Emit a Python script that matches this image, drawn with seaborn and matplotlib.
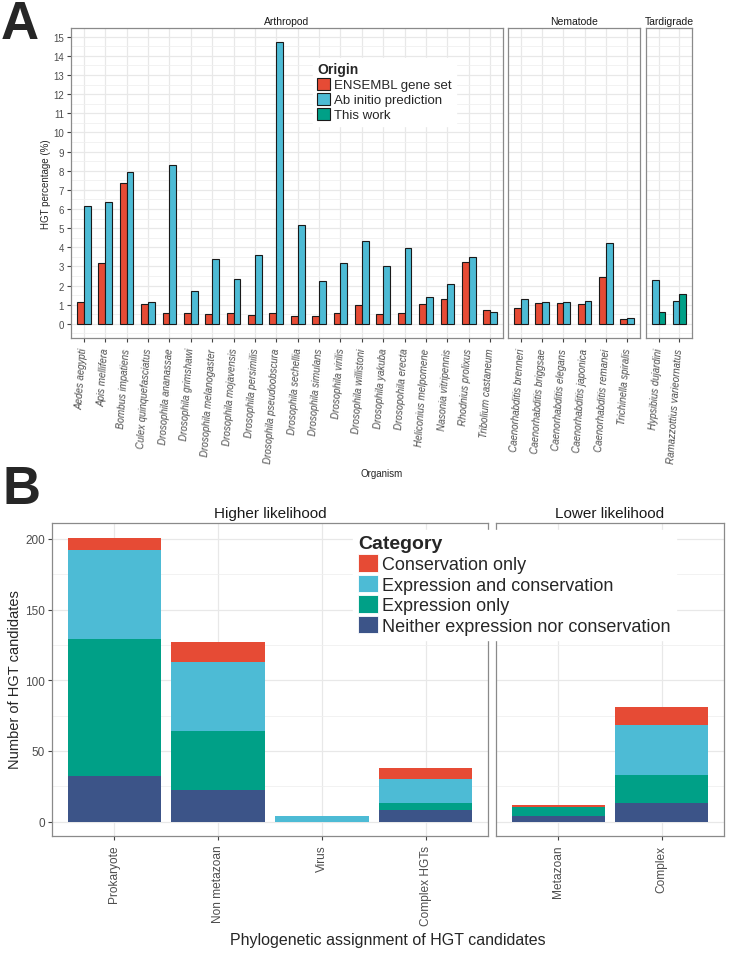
import numpy as np
import pandas as pd
import seaborn as sns
import matplotlib.pyplot as plt
from matplotlib.patches import Patch
from matplotlib.ticker import MultipleLocator

# ---- panel A : HGT percentage per organism ----
arthropod = ['Aedes aegypti', 'Apis mellifera', 'Bombus impatiens',
             'Culex quinquefasciatus', 'Drosophila ananassae',
             'Drosophila grimshawi', 'Drosophila melanogaster',
             'Drosophila mojavensis', 'Drosophila persimilis',
             'Drosophila pseudoobscura', 'Drosophila sechellia',
             'Drosophila simulans', 'Drosophila virilis',
             'Drosophila willistoni', 'Drosophila yakuba',
             'Drosopohila erecta', 'Heliconius melpomene',
             'Nasonia vitripennis', 'Rhodnius prolixus',
             'Tribolium castaneum']
ensembl_arth = [1.13, 3.17, 7.34, 1.04, 0.57, 0.57, 0.50, 0.56, 0.47, 0.59,
                0.40, 0.43, 0.55, 0.99, 0.52, 0.57, 1.03, 1.29, 3.22, 0.73]
abinitio_arth = [6.16, 6.35, 7.91, 1.15, 8.31, 1.70, 3.41, 2.37, 3.62, 14.70,
                 5.18, 2.23, 3.18, 4.35, 3.03, 3.98, 1.41, 2.07, 3.50, 0.63]

nematode = ['Caenorhabditis brenneri', 'Caenorhabditis briggsae',
            'Caenorhabditis elegans', 'Caenorhabditis japonica',
            'Caenorhabditis remanei', 'Trichinella spiralis']
ensembl_nem = [0.82, 1.08, 1.08, 1.03, 2.43, 0.26]
abinitio_nem = [1.30, 1.15, 1.17, 1.18, 4.21, 0.33]

tardigrade = ['Hypsibius dujardini', 'Ramazzottius varieornatus']
abinitio_tar = [2.31, 1.22]
thiswork_tar = [0.64, 1.55]

origins = ['ENSEMBL gene set', 'Ab initio prediction', 'This work']

# ---- panel B : HGT candidates per phylogenetic assignment ----
high_groups = ['Prokaryote', 'Non metazoan', 'Virus', 'Complex HGTs']
low_groups = ['Metazoan', 'Complex']
neither_high = [32, 22, 0, 8]
expr_only_high = [97, 42, 0, 5]
expr_cons_high = [63, 49, 4, 17]
cons_only_high = [9, 14, 0, 8]
neither_low = [4, 13]
expr_only_low = [6, 20]
expr_cons_low = [0, 35]
cons_only_low = [2, 13]

categories = ['Conservation only', 'Expression and conservation',
              'Expression only', 'Neither expression nor conservation']

RED, BLUE, GREEN, NAVY = '#E64B35', '#4DBBD5', '#00A087', '#3C5488'
pal_a = {origins[0]: RED, origins[1]: BLUE, origins[2]: GREEN}

sns.set_style('white')
plt.rcParams['font.family'] = ['Liberation Sans', 'DejaVu Sans']

W, H = 731, 954
fig = plt.figure(figsize=(W / 100, H / 100), dpi=100)


def box(x0, x1, y0, y1):
    return [x0 / W, 1 - y1 / H, (x1 - x0) / W, (y1 - y0) / H]


def style_ax(ax, show_y, minor_step):
    ax.set_facecolor('white')
    for s in ax.spines.values():
        s.set_visible(True)
        s.set_color('#8a8a8a')
        s.set_linewidth(0.9)
    ax.yaxis.set_minor_locator(MultipleLocator(minor_step))
    ax.grid(True, which='major', color='#e8e8e8', lw=0.9)
    ax.grid(True, which='minor', axis='y', color='#f0f0f0', lw=0.6)
    ax.xaxis.grid(True, which='major', color='#e8e8e8', lw=0.9)
    ax.set_axisbelow(True)
    ax.tick_params(axis='both', which='major', length=3, width=0.8,
                   color='#444444', direction='out', bottom=True, left=show_y)
    ax.tick_params(axis='y', which='minor', length=0)
    if not show_y:
        ax.set_yticklabels([])
    ax.set_xlabel('')
    ax.set_ylabel('')


def facet_a(ax, names, values, hue_order, title, show_y):
    df = pd.DataFrame({'organism': np.repeat(names, len(hue_order)),
                       'origin': hue_order * len(names),
                       'pct': np.ravel(np.column_stack(values))})
    sns.barplot(data=df, x='organism', y='pct', hue='origin',
                order=names, hue_order=hue_order, palette=pal_a,
                width=0.64, saturation=1, errorbar=None,
                edgecolor='#1a1a1a', linewidth=0.8, legend=False, ax=ax)
    ax.set_xlim(-0.6, len(names) - 0.4)
    ax.set_ylim(-0.735, 15.435)
    ax.set_yticks(range(0, 16))
    style_ax(ax, show_y, 0.5)
    ax.tick_params(axis='y', labelsize=7, labelcolor='#4d4d4d', pad=2)
    ax.set_xticks(range(len(names)))
    ax.set_xticklabels(names, rotation=86, ha='right', va='center',
                       rotation_mode='anchor', fontsize=7, style='italic',
                       color='#4d4d4d')
    ax.tick_params(axis='x', pad=4)
    ax.set_title(title, fontsize=7.5, pad=3, color='#1a1a1a')


ax1 = fig.add_axes(box(71, 503, 29.3, 339))
ax2 = fig.add_axes(box(508, 640, 29.3, 339))
ax3 = fig.add_axes(box(646, 692, 29.3, 339))
facet_a(ax1, arthropod, [ensembl_arth, abinitio_arth], origins[:2],
        'Arthropod', True)
facet_a(ax2, nematode, [ensembl_nem, abinitio_nem], origins[:2],
        'Nematode', False)
facet_a(ax3, tardigrade, [abinitio_tar, thiswork_tar], origins[1:],
        'Tardigrade', False)

handles = [Patch(facecolor=pal_a[o], edgecolor='#1a1a1a', linewidth=0.8)
           for o in origins]
leg = ax1.legend(handles, origins, title='Origin', loc='upper left',
                 bbox_to_anchor=(306 / W, 1 - 52 / H),
                 bbox_transform=fig.transFigure, fontsize=9.5,
                 title_fontproperties={'weight': 'bold', 'size': 10},
                 alignment='left', frameon=True, framealpha=1,
                 edgecolor='white', fancybox=False, borderpad=0.35,
                 handlelength=1.0, handleheight=1.0, handletextpad=0.25,
                 labelspacing=0.12)

fig.text(46 / W, 1 - 184 / H, 'HGT percentage (%)', rotation=90,
         ha='center', va='center', fontsize=7)
fig.text(381.5 / W, 1 - 474 / H, 'Organism', ha='center', va='center',
         fontsize=7)


# ---- panel B ----
def facet_b(ax, groups, layers, title, show_y):
    tops = np.cumsum(np.array(layers), axis=0)
    colors = [NAVY, GREEN, BLUE, RED]
    for level in range(3, -1, -1):
        sns.barplot(x=groups, y=tops[level], order=groups,
                    color=colors[level], width=0.9, saturation=1,
                    errorbar=None, linewidth=0, ax=ax)
    ax.set_xlim(-0.6, len(groups) - 0.4)
    ax.set_ylim(-10.05, 211.05)
    ax.set_yticks([0, 50, 100, 150, 200])
    style_ax(ax, show_y, 25)
    ax.tick_params(axis='y', labelsize=8.5, labelcolor='#4d4d4d', pad=2)
    ax.set_xticks(range(len(groups)))
    ax.set_xticklabels(groups, rotation=90, ha='center', va='top',
                       fontsize=8.6, color='#4d4d4d')
    ax.tick_params(axis='x', pad=3.5)
    ax.set_title(title, fontsize=11, pad=4.5, color='#1a1a1a')


bx1 = fig.add_axes(box(52, 488, 524.3, 836.7))
bx2 = fig.add_axes(box(496, 724, 524.3, 836.7))
facet_b(bx1, high_groups, [neither_high, expr_only_high, expr_cons_high,
                           cons_only_high], 'Higher likelihood', True)
facet_b(bx2, low_groups, [neither_low, expr_only_low, expr_cons_low,
                          cons_only_low], 'Lower likelihood', False)

handles_b = [Patch(facecolor=c, edgecolor='white', linewidth=0.6)
             for c in [RED, BLUE, GREEN, NAVY]]
leg_b = bx2.legend(handles_b, categories, title='Category', loc='upper left',
                   bbox_to_anchor=(344 / W, 1 - 522 / H),
                   bbox_transform=fig.transFigure, fontsize=13,
                   title_fontproperties={'weight': 'bold', 'size': 14},
                   alignment='left', frameon=True, framealpha=1,
                   edgecolor='white', fancybox=False, borderpad=0.3,
                   handlelength=1.1, handleheight=1.1, handletextpad=0.2,
                   labelspacing=0.1)
leg_b.set_zorder(10)

fig.text(15 / W, 1 - 680 / H, 'Number of HGT candidates', rotation=90,
         ha='center', va='center', fontsize=10.5)
fig.text(388 / W, 1 - 941 / H, 'Phylogenetic assignment of HGT candidates',
         ha='center', va='center', fontsize=11.5)

fig.text(1 / W, 1 - 0 / H, 'A', ha='left', va='top', fontsize=38,
         fontweight='heavy')
fig.text(3 / W, 1 - 465 / H, 'B', ha='left', va='top', fontsize=38,
         fontweight='heavy')

fig.savefig('out.png', dpi=100)
